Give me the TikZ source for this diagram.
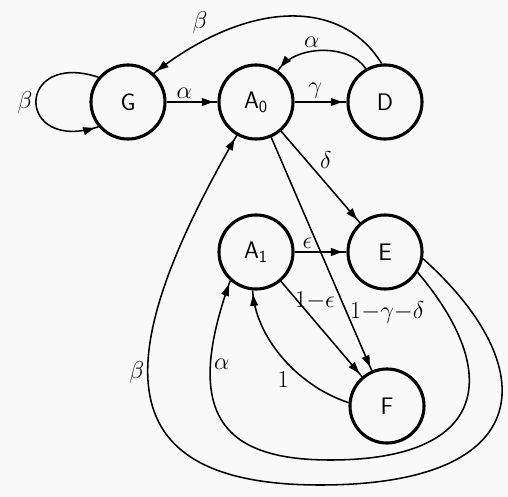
\documentclass[tikz,border=0pt]{standalone}
\usetikzlibrary{arrows.meta,decorations.markings}

\begin{document}
\begin{tikzpicture}[
    x=0.025cm, y=-0.025cm,
    state/.style={draw, circle, line width=2.2pt, minimum size=1.85cm,
                  inner sep=0pt, font=\fontsize{17}{20}\selectfont\sffamily},
    lbl/.style={font=\fontsize{16}{19}\selectfont, inner sep=2pt},
    arr/.style={line width=1.1pt, decoration={markings,
                mark=at position -3pt with {\arrow{Triangle[length=8pt,width=5.5pt]}}},
                postaction={decorate}}
]
  \useasboundingbox[fill=gray!5] (0,0) rectangle (508,497);
  \node[state] (G)  at (128,102) {G};
  \node[state] (A0) at (256,102) {A$_{\mathsf{0}}$};
  \node[state] (D)  at (385,102) {D};
  \node[state] (A1) at (256,252) {A$_{\mathsf{1}}$};
  \node[state] (E)  at (385,252) {E};
  \node[state] (F)  at (387,406) {F};
  \draw[arr] (G.140) .. controls (15,50) and (15,154) .. (G.220)
      node[lbl, left, pos=0.5] {$\beta$};
  \draw[arr] (G) -- (A0) node[lbl, above, pos=0.35] {$\alpha$};
  \draw[arr] (A0) -- (D) node[lbl, above, pos=0.4] {$\gamma$};
  \draw[arr] (D.120) .. controls (350,44) and (295,44) .. (A0.55)
      node[lbl, above, pos=0.6] {$\alpha$};
  \draw[arr] (D.95) .. controls (343,0) and (251,-3) .. (G.48)
      node[lbl, above left, pos=0.8] {$\beta$};
  \draw[arr] (A0) -- (E) node[lbl, above right, pos=0.45] {$\delta$};
  \draw[arr] (A0) -- (F) node[lbl, right, pos=0.75] {$1{-}\gamma{-}\delta$};
  \draw[arr] (A1) -- (E) node[lbl, above, pos=0.25] {$\epsilon$};
  \draw[arr] (A1) -- (F) node[lbl, right, pos=0.2, xshift=-4] {$1{-}\epsilon$};
  \draw[arr] (F.175) .. controls (295,385) and (255,335) .. (A1.265)
      node[lbl, below left, pos=0.4] {$1$};
  \draw[arr] (E.-32) .. controls (502,372) and (490,460) .. (330,460)
      .. controls (220,460) and (183,412) .. (A1.228)
      node[lbl, right, pos=0.75] {$\alpha$};
  \draw[arr] (E.-10) .. controls (543,366) and (540,485) .. (320,485)
      .. controls (100,485) and (112,351) .. (A0.240)
      node[lbl, left, pos=0.55] {$\beta$};
\end{tikzpicture}
\end{document}
